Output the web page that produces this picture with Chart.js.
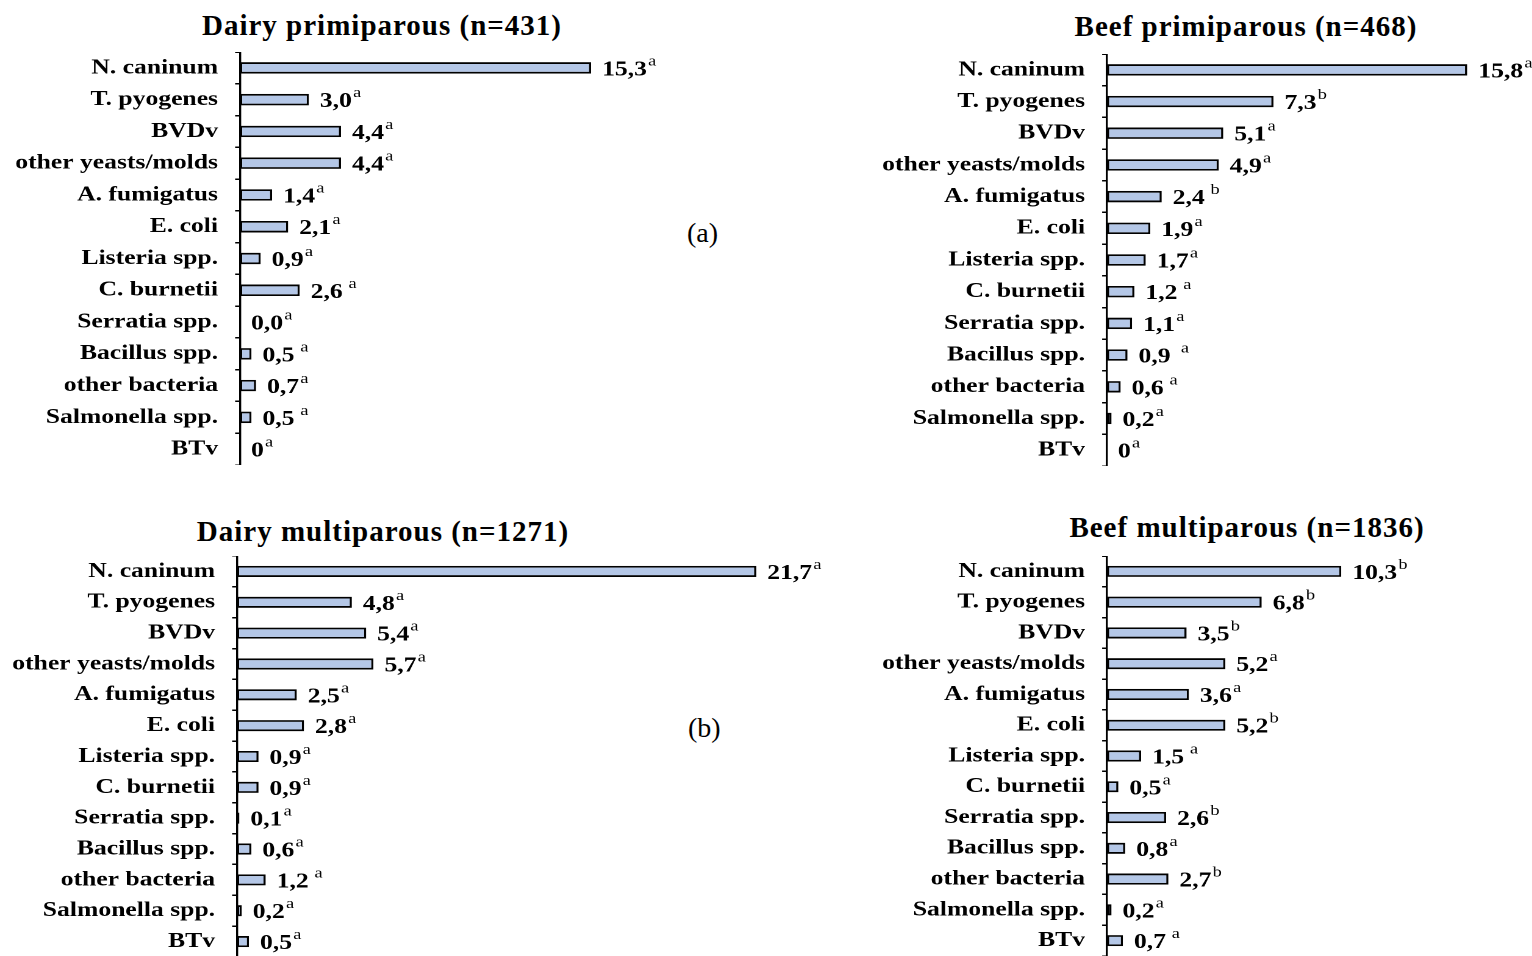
<!DOCTYPE html>
<html>
<head>
<meta charset="utf-8">
<title>Abortion agents by herd type and parity</title>
<script src="https://cdn.jsdelivr.net/npm/chart.js@4/dist/chart.umd.min.js"></script>
<style>
  html, body { margin: 0; padding: 0; background: #fff; }
  body { width: 1532px; height: 956px; position: relative; overflow: hidden; }
  canvas { position: absolute; transform-origin: 0 0; }
  .title {
    position: absolute; width: 600px; text-align: center;
    font: bold 29px/29px "Liberation Serif", "Times New Roman", serif;
    letter-spacing: 1px; color: #000; white-space: nowrap;
  }
  .tag {
    position: absolute;
    font: 28px/28px "Liberation Serif", "Times New Roman", serif;
    color: #000;
  }
</style>
</head>
<body>
<div class="tag" style="left:687px;top:219px">(a)</div>
<div class="tag" style="left:688px;top:714px">(b)</div>

<script>
const categories = [
  "N. caninum", "T. pyogenes", "BVDv", "other yeasts/molds", "A. fumigatus",
  "E. coli", "Listeria spp.", "C. burnetii", "Serratia spp.", "Bacillus spp.",
  "other bacteria", "Salmonella spp.", "BTv"
];

// percentages as printed next to each bar (comma decimals)
const dairyPrimiparous = ["15,3", "3,0", "4,4", "4,4", "1,4", "2,1", "0,9", "2,6", "0,0", "0,5", "0,7", "0,5", "0"];
const beefPrimiparous = ["15,8", "7,3", "5,1", "4,9", "2,4", "1,9", "1,7", "1,2", "1,1", "0,9", "0,6", "0,2", "0"];
const dairyMultiparous = ["21,7", "4,8", "5,4", "5,7", "2,5", "2,8", "0,9", "0,9", "0,1", "0,6", "1,2", "0,2", "0,5"];
const beefMultiparous = ["10,3", "6,8", "3,5", "5,2", "3,6", "5,2", "1,5", "0,5", "2,6", "0,8", "2,7", "0,2", "0,7"];

// significance letters (superscripts)
const dairyPrimiparousSig = ["a", "a", "a", "a", "a", "a", "a", " a", "a", " a", "a", " a", "a"];
const beefPrimiparousSig = ["a", "b", "a", "a", " b", "a", "a", " a", "a", "  a", " a", "a", "a"];
const dairyMultiparousSig = ["a", "a", "a", "a", "a", "a", "a", "a", "a", "a", " a", "a", "a"];
const beefMultiparousSig = ["b", "b", "b", "a", "a", "b", " a", "a", "b", "a", "b", "a", " a"];

const FONT = '"Liberation Serif", "Times New Roman", serif';
// the exported figure is widened horizontally; canvases get the same stretch
const STRETCH = 1.22;

// geometry in page pixels; unitPx = pixels per percentage point
const panels = [
  { title: "Dairy primiparous (n=431)", values: dairyPrimiparous, sig: dairyPrimiparousSig,
    left: 0, top: 52, width: 720, height: 413, axisWidth: 240, unitPx: 22.95,
    titleLeft: 82, titleTop: 11 },
  { title: "Beef primiparous (n=468)", values: beefPrimiparous, sig: beefPrimiparousSig,
    left: 866, top: 54, width: 666, height: 412, axisWidth: 241, unitPx: 22.8,
    titleLeft: 946, titleTop: 12 },
  { title: "Dairy multiparous (n=1271)", values: dairyMultiparous, sig: dairyMultiparousSig,
    left: 0, top: 556, width: 850, height: 401, axisWidth: 237, unitPx: 23.93,
    titleLeft: 83, titleTop: 517 },
  { title: "Beef multiparous (n=1836)", values: beefMultiparous, sig: beefMultiparousSig,
    left: 866, top: 556, width: 666, height: 400, axisWidth: 241, unitPx: 22.75,
    titleLeft: 947, titleTop: 513 }
];

function toNumber(s) {
  return parseFloat(s.replace(",", "."));
}

// value + superscript letter at the end of each bar
const valueLabels = {
  id: "valueLabels",
  afterDatasetsDraw(chart, args, opts) {
    const ctx = chart.ctx;
    const meta = chart.getDatasetMeta(0);
    ctx.save();
    ctx.fillStyle = "#000";
    ctx.textAlign = "left";
    ctx.textBaseline = "alphabetic";
    meta.data.forEach((bar, i) => {
      let x = bar.x + 9;
      const y = bar.y + 7.5;
      ctx.font = "bold 21px " + FONT;
      ctx.fillText(opts.texts[i], x, y);
      x += ctx.measureText(opts.texts[i]).width + 1;
      ctx.font = "15px " + FONT;
      ctx.fillText(opts.letters[i], x, y - 10);
    });
    ctx.restore();
  }
};

panels.forEach(p => {
  let t = document.createElement("div");
  t.className = "title";
  t.style.left = p.titleLeft + "px";
  t.style.top = p.titleTop + "px";
  t.textContent = p.title;
  document.body.appendChild(t);

  let canvas = document.createElement("canvas");
  canvas.width = Math.round(p.width / STRETCH);
  canvas.height = p.height;
  canvas.style.left = p.left + "px";
  canvas.style.top = p.top + "px";
  canvas.style.transform = "scaleX(" + STRETCH + ")";
  document.body.appendChild(canvas);

  const axisWidth = p.axisWidth / STRETCH;
  const xMax = (canvas.width - axisWidth) * STRETCH / p.unitPx;

  new Chart(canvas, {
    type: "bar",
    data: {
      labels: categories,
      datasets: [{
        data: p.values.map(toNumber),
        backgroundColor: "#b4c7e7",
        borderColor: "#000",
        borderWidth: 1.8,
        borderSkipped: false,
        barPercentage: 0.36,
        categoryPercentage: 1
      }]
    },
    options: {
      indexAxis: "y",
      responsive: false,
      animation: false,
      devicePixelRatio: 2,
      layout: { padding: 0 },
      plugins: {
        legend: { display: false },
        tooltip: { enabled: false },
        valueLabels: { texts: p.values, letters: p.sig }
      },
      scales: {
        x: { display: false, min: 0, max: xMax },
        y: {
          grid: {
            drawOnChartArea: false,
            drawTicks: true,
            tickLength: 4,
            lineWidth: 1.5,
            color: "#000",
            offset: true
          },
          border: { display: true, color: "#000", width: 1.7 },
          ticks: {
            color: "#000",
            padding: 14,
            font: { family: FONT, size: 21, weight: "bold" }
          },
          afterFit(scale) {
            scale.width = axisWidth;
            scale.paddingTop = 0;
            scale.paddingBottom = 0;
          }
        }
      }
    },
    plugins: [valueLabels]
  });
});
</script>
</body>
</html>
